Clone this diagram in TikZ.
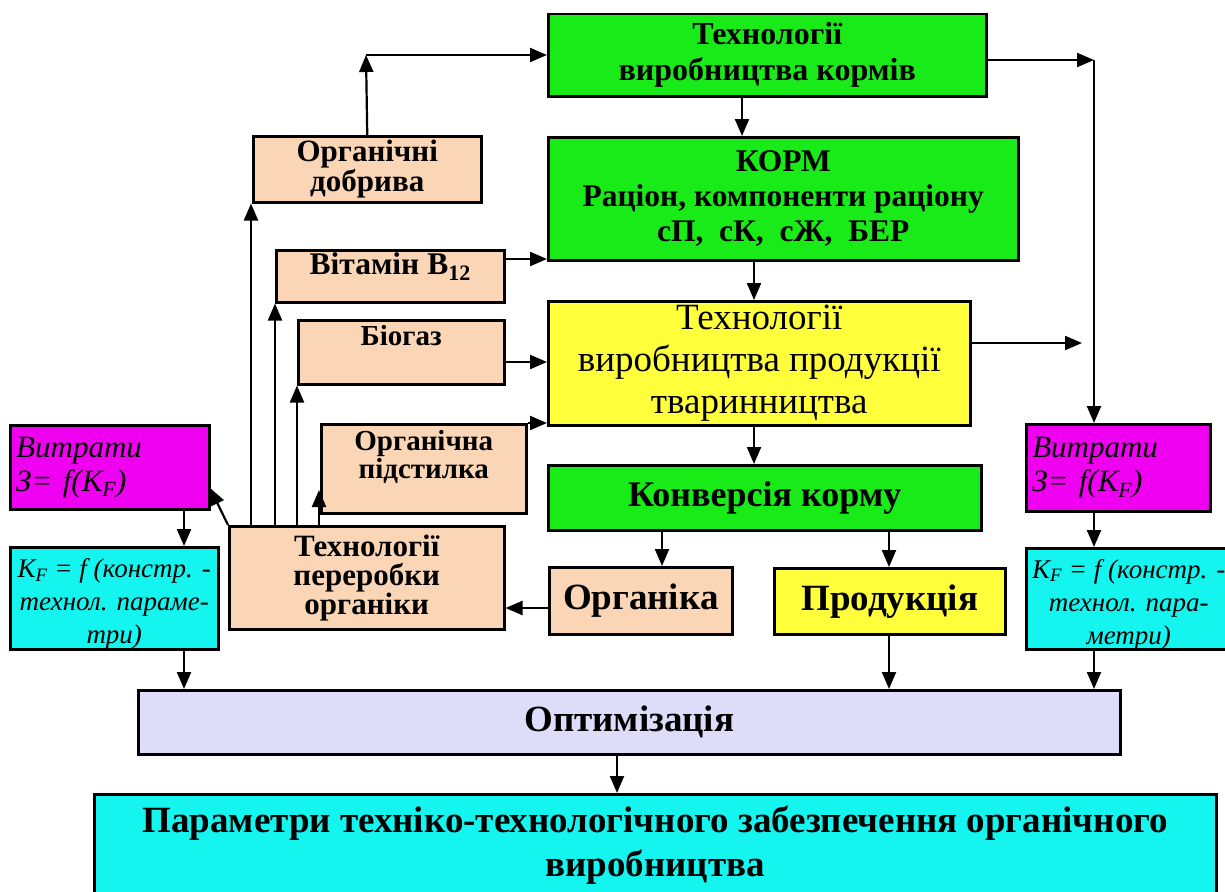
\documentclass[tikz,border=0pt]{standalone}
\usepackage{fontspec}
\setmainfont{Liberation Serif}
\usetikzlibrary{arrows.meta,calc}
\definecolor{cgreen}{RGB}{25,235,25}
\definecolor{cpeach}{RGB}{250,214,182}
\definecolor{cyell}{RGB}{255,255,60}
\definecolor{cmag}{RGB}{240,0,240}
\definecolor{ccyan}{RGB}{20,245,240}
\definecolor{clav}{RGB}{221,221,250}
\newcommand{\fsz}[2]{\fontsize{#1}{#2}\selectfont}
\newcommand{\rbx}[2]{\raisebox{#1}[0pt][0pt]{\begin{tabular}{@{}c@{}}#2\end{tabular}}}
\begin{document}
\begin{tikzpicture}[x=1pt,y=-1pt,
  box/.style={draw=black, line width=2.5pt, inner sep=2pt, align=center, anchor=north west},
  peach/.style={box, fill=cpeach, font=\bfseries\fsz{31}{28}},
  arr/.style={line width=2.2pt, -{Triangle[length=17pt,width=14pt]}}]
\fill[white] (0,0) rectangle (1225,891);
\useasboundingbox (0,0) rectangle (1225,891);
\clip (0,0) rectangle (1225,891);

% main column
\node[box, fill=cgreen, minimum width=438pt, minimum height=82pt, font=\bfseries\fsz{32}{36}] (tk) at (547,13) {Технології\\виробництва кормів};
\node[box, fill=cgreen, minimum width=470pt, minimum height=123pt, font=\bfseries\fsz{31.5}{35}] (korm) at (547,136) {КОРМ\\Раціон, компоненти раціону\\сП,~ сК,~ сЖ,~ БЕР};
\node[box, fill=cyell, minimum width=422pt, minimum height=124pt, font=\fsz{37}{42}] (tp) at (547,300) {Технології\\виробництва продукції\\тваринництва};
\node[box, fill=cgreen, minimum width=433pt, minimum height=65pt, font=\bfseries\fsz{36}{40}] (konv) at (547,464) {Конверсія корму};
\node[box, fill=cpeach, minimum width=183pt, minimum height=67pt, font=\bfseries\fsz{37}{40}] (org) at (548,566) {Органіка};
\node[box, fill=cyell, minimum width=231pt, minimum height=66pt, font=\bfseries\fsz{37}{40}] (prod) at (773,567) {Продукція};

% left peach boxes
\node[peach, minimum width=228pt, minimum height=66pt] (dobr) at (252,135) {Органічні\\добрива};
\node[peach, minimum width=228pt, minimum height=52pt, font=\bfseries\fsz{31.5}{28}] (vit) at (275,249) {\rbx{2pt}{Вітамін B\textsubscript{12}}};
\node[peach, minimum width=206pt, minimum height=64pt, font=\bfseries\fsz{29}{28}] (bio) at (297,319) {\rbx{6pt}{Біогаз}};
\node[peach, minimum width=205pt, minimum height=89pt, font=\bfseries\fsz{29}{28}] (pod) at (320,423) {\rbx{4pt}{Органічна\\підстилка}};
\node[box, fill=cpeach, minimum width=275pt, minimum height=103pt, font=\bfseries\fsz{31}{29}] (pere) at (228,525) {Технології\\переробки\\органіки};

% side boxes
\node[box, fill=cmag, minimum width=199pt, minimum height=84pt, align=left, text width=187pt, inner xsep=6pt, font=\itshape\fsz{31}{34}] (vl) at (9,424) {Витрати\\З= f(K\textsubscript{F})};
\node[box, fill=ccyan, minimum width=208pt, minimum height=102pt, font=\itshape\fsz{27}{33}] (kl) at (9,546) {\rbx{-12pt}{K\textsubscript{F} = f (констр. -\\технол. параме-\\три)}};
\node[box, fill=cmag, minimum width=184pt, minimum height=87pt, align=left, text width=172pt, inner xsep=6pt, font=\itshape\fsz{31}{34}] (vr) at (1025,423) {Витрати\\З= f(K\textsubscript{F})};
\node[box, fill=ccyan, minimum width=205pt, minimum height=101pt, font=\itshape\fsz{27}{33}] (kr) at (1025,547) {\rbx{-12pt}{K\textsubscript{F} = f (констр. -\\технол. пара-\\метри)}};

% bottom
\node[box, fill=clav, minimum width=982pt, minimum height=64pt, font=\bfseries\fsz{37}{40}] (opt) at (137,689) {Оптимізація};
\node[box, fill=ccyan, minimum width=1122pt, minimum height=102pt, font=\bfseries\fsz{37}{44}] (par) at (93,793) {Параметри техніко-технологічного забезпечення органічного\\виробництва};

% helper coordinates
\coordinate (cA) at (366,55);
\coordinate (cB) at (1094,60);
\coordinate (eY) at (1082,343);
\coordinate (podT) at (319,490);
\coordinate (vlT) at (210,488);
\coordinate (x742) at (742,0);
\coordinate (x754) at (754,0);
\coordinate (x662) at (662,0);
\coordinate (x889) at (889,0);
\coordinate (x251) at (251,0);
\coordinate (x275) at (275,0);
\coordinate (x297) at (297,0);
\coordinate (x319) at (319,0);
\coordinate (x184) at (184,0);
\coordinate (x1094) at (1094,0);
\coordinate (x617) at (617,0);
\coordinate (y608) at (0,608);
\coordinate (y343) at (0,343);
\coordinate (y259) at (0,259);
\coordinate (y362) at (0,362);

% connectors
\draw[arr] (dobr.north) -- (cA);
\draw[arr] (cA) -- (cA -| tk.west);
\draw[arr] (cB -| tk.east) -- (cB);
\draw[arr] (cB) -- (cB |- vr.north);
\draw[arr] (x742 |- tk.south) -- (x742 |- korm.north);
\draw[arr] (x754 |- korm.south) -- (x754 |- tp.north);
\draw[arr] (x754 |- tp.south) -- (x754 |- konv.north);
\draw[arr] (x662 |- konv.south) -- (x662 |- org.north);
\draw[arr] (x889 |- konv.south) -- (x889 |- prod.north);
\draw[arr] (y608 -| org.west) -- (y608 -| pere.east);
\draw[arr] (y343 -| tp.east) -- (eY);
\draw[arr] (y259 -| vit.east) -- (y259 -| korm.west);
\draw[arr] (y362 -| bio.east) -- (y362 -| tp.west);
\draw[arr] (pod.north east) -- (pod.north east -| tp.west);
\draw[arr] (x251 |- pere.north) -- (x251 |- dobr.south);
\draw[arr] (x275 |- pere.north) -- (x275 |- vit.south);
\draw[arr] (x297 |- pere.north) -- (x297 |- bio.south);
\draw[arr] (x319 |- pere.north) -- (podT);
\draw[arr] (pere.north west) -- (vlT);
\draw[arr] (x184 |- vl.south) -- (x184 |- kl.north);
\draw[arr] (x184 |- kl.south) -- (x184 |- opt.north);
\draw[arr] (x1094 |- vr.south) -- (x1094 |- kr.north);
\draw[arr] (x1094 |- kr.south) -- (x1094 |- opt.north);
\draw[arr] (x889 |- prod.south) -- (x889 |- opt.north);
\draw[arr] (x617 |- opt.south) -- (x617 |- par.north);
\end{tikzpicture}
\end{document}
